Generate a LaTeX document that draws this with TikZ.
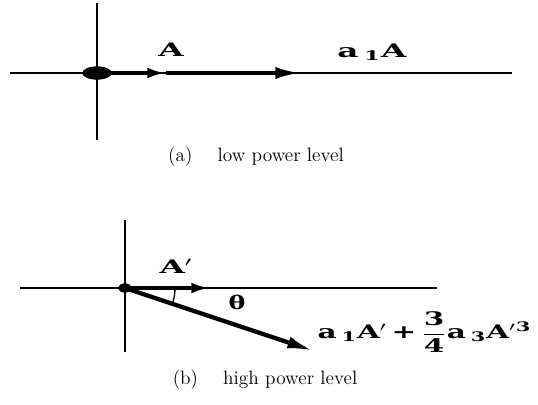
\documentclass[tikz,border=0pt]{standalone}
\usepackage{amsmath,amssymb}
\usepackage{fontspec}
\usepackage{graphicx}
\usepackage{tikz}
\usetikzlibrary{arrows.meta,positioning,shapes,calc}
\newfontfamily\labfont{DejaVu Serif}
\newcommand{\widelab}[2][1.75]{\scalebox{#1}[1]{\labfont\bfseries #2}}
\newcommand{\bnum}[1]{\text{\labfont\bfseries #1}}
\tikzset{
  axisline/.style={line width=1pt,draw=black},
  phasor/.style={-{Latex[length=14pt,width=8pt]},line width=3.2pt,draw=black},
  bigphasor/.style={-{Latex[length=20pt,width=9pt]},line width=3.2pt,draw=black},
  origindot/.style={ellipse,fill=black,inner sep=0pt},
  veclabel/.style={font=\fontsize{14}{16}\selectfont,inner sep=1pt},
  caption/.style={font=\fontsize{14.5}{17}\selectfont,inner sep=1pt}
}

\begin{document}
\begin{tikzpicture}[x=0.75pt,y=-0.75pt]
    \path[use as bounding box] (0,0) rectangle (538,404);
    % (a) low power level
    \coordinate (xa-l) at (10,73);
    \coordinate (xa-r) at (512,73);
    \coordinate (ya-t) at (97,3);
    \coordinate (ya-b) at (97,140);
    \draw[axisline] (xa-l) -- (xa-r);
    \draw[axisline] (ya-t) -- (ya-b);
    \node[origindot,minimum width=22pt,minimum height=10pt] (oa) at (97,73) {};
    \coordinate (ma) at (166,73);
    \coordinate (ea) at (302,73);
    \draw[phasor] (oa.center) -- (ma);
    \draw[bigphasor] (ma) -- (ea);
    \node[veclabel] (lblA) at (171,50) {\widelab{A}};
    \node[veclabel] (lblaA) at (372,52) {\widelab{a\,\textsubscript{1}A}};
    \node[caption] (capa) at (256,157) {(a)\hspace{1.3em}low power level};
    % (b) high power level
    \coordinate (xb-l) at (20,288);
    \coordinate (xb-r) at (437,288);
    \coordinate (yb-t) at (125,220);
    \coordinate (yb-b) at (125,352);
    \draw[axisline] (xb-l) -- (xb-r);
    \draw[axisline] (yb-t) -- (yb-b);
    \node[origindot,minimum width=10pt,minimum height=7pt] (ob) at (125,288) {};
    \coordinate (eb) at (210,288);
    \coordinate (es) at (314,351);
    \draw[phasor] (ob.center) -- (eb);
    \draw[bigphasor] (ob.center) -- (es);
    \draw[line width=1pt] ($(ob.center)+(50,0)$) arc[start angle=0,end angle=18.5,radius=50];
    \node[veclabel] (lblAp) at (176,266) {\widelab{A$'$}};
    \node[veclabel] (theta) at (237,302) {\widelab[1.35]{θ}};
    \node[veclabel,anchor=west] (lblsum) at (316,332)
      {\widelab[1.58]{a\,\textsubscript{1}A$'$\,+\,$\dfrac{\bnum{3}}{\bnum{4}}$a\,\textsubscript{3}A$'$\textsuperscript{3}}};
    \node[caption] (capb) at (265,380) {(b)\hspace{1.3em}high power level};
\end{tikzpicture}
\end{document}
